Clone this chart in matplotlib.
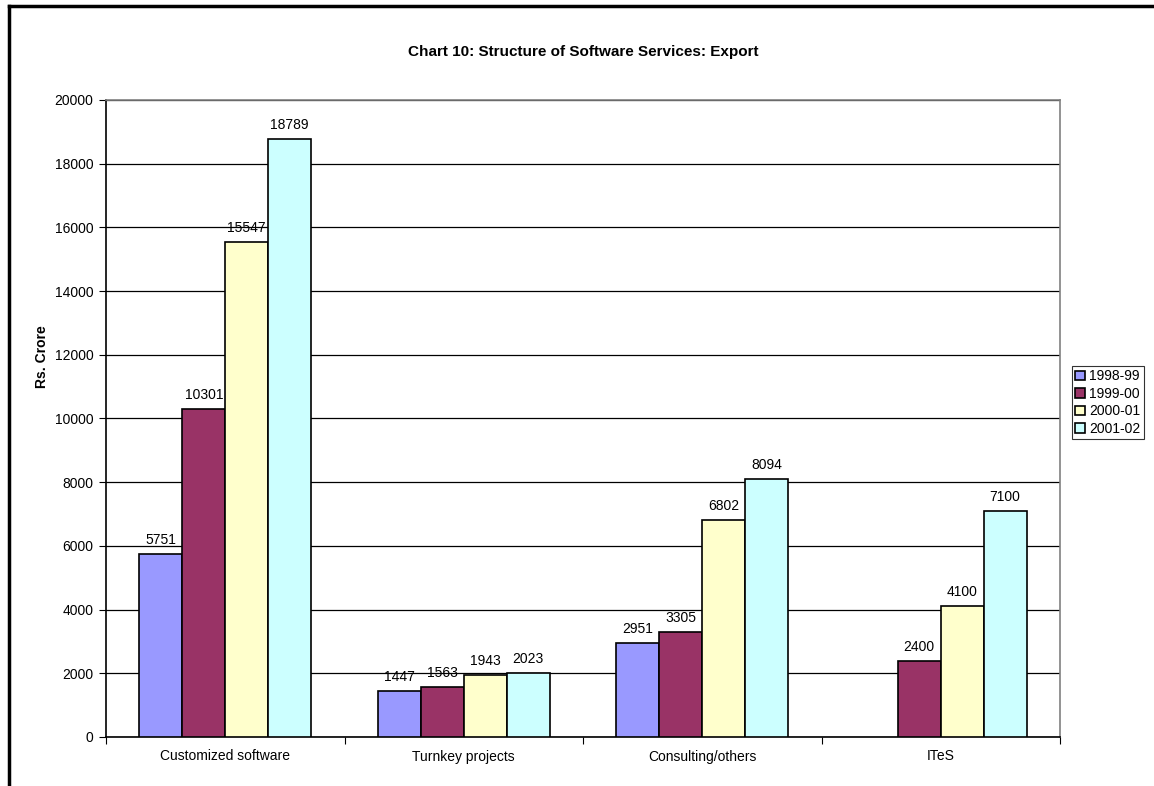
import numpy as np
import matplotlib
matplotlib.use("Agg")
import matplotlib.pyplot as plt
from matplotlib.lines import Line2D

categories = ["Customized software", "Turnkey projects", "Consulting/others", "ITeS"]
years = ["1998-99", "1999-00", "2000-01", "2001-02"]
v_1998 = [5751, 1447, 2951, np.nan]
v_1999 = [10301, 1563, 3305, 2400]
v_2000 = [15547, 1943, 6802, 4100]
v_2001 = [18789, 2023, 8094, 7100]
colors = ["#9999FF", "#993366", "#FFFFCC", "#CCFFFF"]

plt.rcParams['font.family'] = ['Liberation Sans', 'DejaVu Sans']

fig = plt.figure(figsize=(11.54, 7.86), dpi=100)
ax = fig.add_axes([106 / 1154, 1 - 737 / 786, 954 / 1154, 637 / 786])

x = np.arange(len(categories))
w = 0.18
series = [v_1998, v_1999, v_2000, v_2001]
for i, (vals, c, lab) in enumerate(zip(series, colors, years)):
    pos = x + (i - 1.5) * w
    ax.bar(pos, vals, w, color=c, edgecolor="black", linewidth=1.2, label=lab, zorder=3)
    for p, v in zip(pos, vals):
        if not np.isnan(v):
            ax.annotate(f"{int(v)}", (p, v), xytext=(0, 5), textcoords="offset points",
                        ha="center", va="bottom", fontsize=10)

ax.set_xlim(-0.5, 3.5)
ax.set_ylim(0, 20000)
ax.set_yticks(np.arange(0, 20001, 2000))
ax.yaxis.grid(True, color="black", linewidth=0.9, zorder=0)
ax.set_axisbelow(True)

ax.set_xticks(np.arange(-0.5, 4, 1))
ax.set_xticklabels([])
ax.set_xticks(x, minor=True)
ax.set_xticklabels(categories, minor=True)
ax.tick_params(axis="x", which="minor", length=0, pad=9, labelsize=10)
ax.tick_params(axis="x", which="major", direction="out", length=5, color="black")
ax.tick_params(axis="y", direction="out", length=5, labelsize=10, pad=4)

for s in ["top", "right"]:
    ax.spines[s].set_color("#808080")
    ax.spines[s].set_linewidth(1.2)
for s in ["left", "bottom"]:
    ax.spines[s].set_color("black")
    ax.spines[s].set_linewidth(1.2)

fig.text(42 / 1154, 1 - 357 / 786, "Rs. Crore", rotation=90, ha="center", va="center",
         fontsize=10, fontweight="bold")
fig.text(0.5 * (106 + 1060) / 1154, 1 - 52 / 786, "Chart 10: Structure of Software Services: Export",
         ha="center", va="center", fontsize=11, fontweight="bold")

leg = fig.legend(loc="upper left", bbox_to_anchor=(1072 / 1154, 1 - 366 / 786),
                 fontsize=10, frameon=True, fancybox=False, handlelength=0.7,
                 handleheight=0.7, handletextpad=0.3, borderpad=0.25, labelspacing=0.25,
                 borderaxespad=0)
leg.get_frame().set_edgecolor("black")
leg.get_frame().set_linewidth(0.8)

# outer chart frame (cropped at right and bottom)
fx = 8.5 / 1154
fy = 1 - 5.5 / 786
fig.add_artist(Line2D([fx, 1], [fy, fy], transform=fig.transFigure, color="black", linewidth=2.5))
fig.add_artist(Line2D([fx, fx], [0, fy], transform=fig.transFigure, color="black", linewidth=2.5))

fig.savefig("out.png", dpi=100)
